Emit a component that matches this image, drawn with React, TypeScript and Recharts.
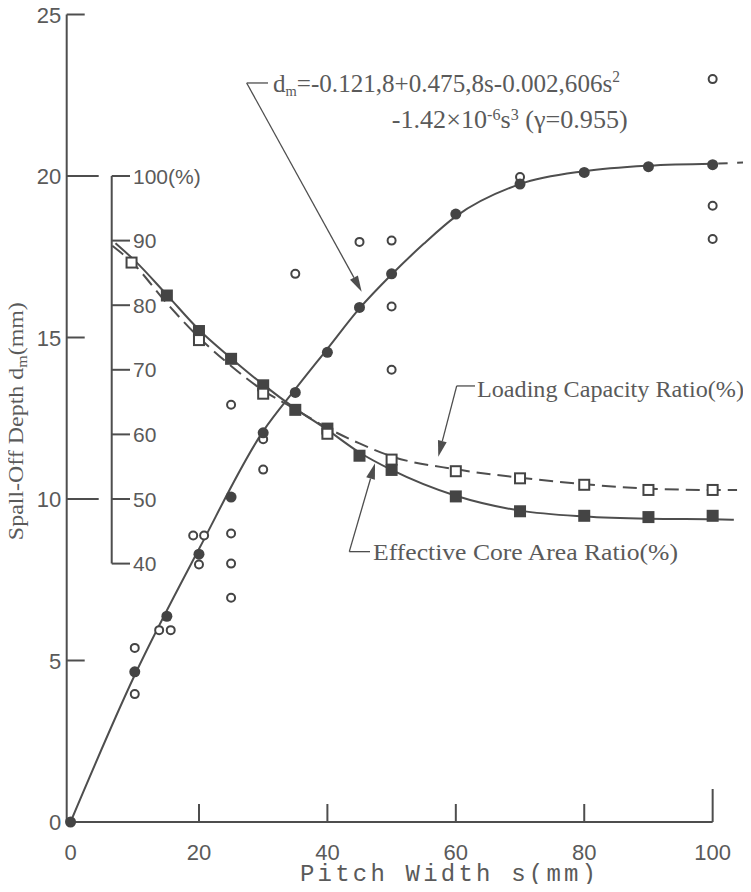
import React from 'react';
import { ComposedChart, Line, Scatter, XAxis, YAxis, ReferenceLine, ReferenceDot } from 'recharts';

// ---------------- data ----------------
const pitchTicks = [0, 20, 40, 60, 80, 100];
const depthTicks = [0, 5, 10, 15, 20, 25];
const ratioTicks = [40, 50, 60, 70, 80, 90, 100];
const ratioTickLabels = ['40', '50', '60', '70', '80', '90', '100(%)'];

// fitted spall-off depth curve d_m (mm) vs pitch width s (mm)
const depthCurveS = [0, 10, 20, 30, 35, 40, 45, 50, 55, 60, 70, 80, 90, 100];
const depthCurveV = [0, 4.55, 8.45, 12.1, 13.4, 14.65, 15.9, 16.95, 17.9, 18.75, 19.75, 20.15, 20.32, 20.38];
const depthExtS = [100, 105.5];
const depthExtV = [20.38, 20.42];

// mean values (filled circles)
const depthMeanS = [0, 10, 15, 20, 25, 30, 35, 40, 45, 50, 60, 70, 80, 90, 100];
const depthMeanV = [0, 4.65, 6.37, 8.29, 10.06, 12.05, 13.3, 14.54, 15.93, 16.97, 18.82, 19.75, 20.11, 20.29, 20.35];

// individual values (open circles)
const depthObsS = [10, 10, 13.8, 15.6, 19.1, 20.8, 20, 25, 25, 25, 25, 30, 30, 35, 45, 50, 50, 50, 70, 100, 100, 100];
const depthObsV = [5.39, 3.96, 5.94, 5.94, 8.87, 8.87, 7.97, 8.93, 8.0, 6.94, 12.92, 10.91, 11.85, 16.97, 17.96, 18.0, 15.96, 14.0, 19.97, 23.0, 19.08, 18.05];

// effective core area ratio (%)
const coreCurveS = [7, 10, 15, 20, 25, 30, 35, 40, 45, 50, 60, 70, 80, 90, 100, 103.3];
const coreCurveV = [89.6, 86.9, 81.6, 76.2, 71.8, 67.7, 64.0, 60.7, 57.2, 54.5, 50.5, 48.2, 47.3, 46.95, 46.85, 46.8];
const corePtsS = [15, 20, 25, 30, 35, 40, 45, 50, 60, 70, 80, 90, 100];
const corePtsV = [81.5, 76.0, 71.7, 67.6, 63.8, 60.9, 56.7, 54.5, 50.4, 48.1, 47.4, 47.2, 47.4];

// loading capacity ratio (%)
const loadCurveS = [6.5, 9.5, 15, 20, 25, 30, 35, 40, 45, 50, 60, 70, 80, 90, 100, 103.8];
const loadCurveV = [89.2, 86.7, 80.3, 75.0, 70.6, 66.8, 63.9, 61.0, 58.6, 56.6, 54.6, 53.3, 52.3, 51.6, 51.4, 51.4];
const loadPtsS = [9.5, 20, 30, 40, 50, 60, 70, 80, 90, 100];
const loadPtsV = [86.6, 74.6, 66.3, 60.1, 56.1, 54.3, 53.2, 52.2, 51.4, 51.4];

const toPts = (s: number[], v: number[]) => s.map((x, i) => ({ s: x, v: v[i] }));

// ---------------- styles ----------------
const INK = '#4e4e4e';
const MARK = '#444444';
const TXT = '#5a5a5a';
const SANS = '"Liberation Sans", Arial, sans-serif';
const SERIF = '"Liberation Serif", "DejaVu Serif", serif';
const MONO = '"Liberation Mono", "DejaVu Sans Mono", monospace';

// annotation anchors (data units: s, d_m) – not data
const X_MIN = -0.6;
const X_MAX = 105.8;
const PCT_AXIS_S = 6.41;
const PCT_TICK_END_S = 9.26;
const formulaArrow = { corner: [27.43, 22.88], bar: 30.75, tip: [45.34, 16.42] };
const loadArrow = { corner: [60.14, 13.5], bar: 62.99, tip: [57.27, 11.31] };
const coreArrow = { corner: [43.41, 8.37], bar: 46.64, tip: [47.42, 11.11] };
const formula1At = [31.53, 22.6];
const formula2At = [50.02, 21.5];
const loadTextAt = [63.3, 13.17];
const coreTextAt = [47.1, 8.11];
const xTitleAt = [58.78, -1.83];
const yTitleAt = [-7.45, 12.41];

// ---------------- shapes ----------------
const FilledCircle = (p: any) => <circle cx={p.cx} cy={p.cy} r={5.5} fill={MARK} />;
const OpenCircle = (p: any) => <circle cx={p.cx} cy={p.cy} r={4} fill="#fff" stroke={MARK} strokeWidth={2} />;
const FilledSquare = (p: any) => <rect x={p.cx - 6} y={p.cy - 6} width={12} height={12} fill={MARK} />;
const OpenSquare = (p: any) => (
  <rect x={p.cx - 5} y={p.cy - 5} width={10} height={10} fill="#fff" stroke={MARK} strokeWidth={2} />
);

const ArrowShape = (p: any) => {
  const { x1, y1, x2, y2 } = p;
  const dx = x2 - x1;
  const dy = y2 - y1;
  const L = Math.hypot(dx, dy) || 1;
  const ux = dx / L;
  const uy = dy / L;
  const head = 16;
  const hw = 4.5;
  const bx = x2 - ux * head;
  const by = y2 - uy * head;
  const pts = `${x2},${y2} ${bx - uy * hw},${by + ux * hw} ${bx + uy * hw},${by - ux * hw}`;
  return (
    <g>
      <line x1={x1} y1={y1} x2={bx} y2={by} stroke={INK} strokeWidth={1.3} />
      <polygon points={pts} fill={INK} />
    </g>
  );
};

const BarShape = (p: any) => <line x1={p.x1} y1={p.y1} x2={p.x2} y2={p.y2} stroke={INK} strokeWidth={1.3} />;

const XTick = (p: any) => {
  const v = p.payload.value;
  const len = v === 100 ? 33 : 18;
  return (
    <g>
      {v !== 0 && <line x1={p.x} y1={p.y} x2={p.x} y2={p.y - len} stroke={INK} strokeWidth={2} />}
      <text x={p.x} y={p.y + 38} textAnchor="middle" fontFamily={SANS} fontSize={22} fill={TXT}>
        {v}
      </text>
    </g>
  );
};

const YTick = (p: any) => {
  const v = p.payload.value;
  const len = v === 10 || v === 20 ? 32 : 18;
  return (
    <g>
      {v !== 0 && <line x1={p.x} y1={p.y} x2={p.x + len} y2={p.y} stroke={INK} strokeWidth={2} />}
      <text x={p.x - 5.5} y={p.y + 8} textAnchor="end" fontFamily={SANS} fontSize={22} fill={TXT}>
        {v}
      </text>
    </g>
  );
};

const pctTickShape = (label: string) => (p: any) => (
  <g>
    <line x1={p.x1} y1={p.y1} x2={p.x2} y2={p.y2} stroke={INK} strokeWidth={2} />
    <text x={p.x2 + 3} y={p.y1 + 7.5} fontFamily={SANS} fontSize={21} fill={TXT}>
      {label}
    </text>
  </g>
);

const Formula1 = (p: any) => (
  <text x={p.cx} y={p.cy} fontFamily={SERIF} fontSize={26} fill={TXT} textLength={347} lengthAdjust="spacingAndGlyphs">
    d<tspan fontSize={15} dy={4}>m</tspan>
    <tspan dy={-4}>=-0.121,8+0.475,8s-0.002,606s</tspan>
    <tspan fontSize={16} dy={-10}>2</tspan>
  </text>
);

const Formula2 = (p: any) => (
  <text x={p.cx} y={p.cy} fontFamily={SERIF} fontSize={26} fill={TXT} textLength={236} lengthAdjust="spacingAndGlyphs">
    -1.42×10<tspan fontSize={16} dy={-8}>-6</tspan>
    <tspan dy={8}>s</tspan>
    <tspan fontSize={16} dy={-8}>3</tspan>
    <tspan dy={8}>{' (γ=0.955)'}</tspan>
  </text>
);

const LoadText = (p: any) => (
  <text x={p.cx} y={p.cy} fontFamily={SERIF} fontSize={24} fill={TXT} textLength={267} lengthAdjust="spacingAndGlyphs">
    Loading Capacity Ratio(%)
  </text>
);

const CoreText = (p: any) => (
  <text x={p.cx} y={p.cy} fontFamily={SERIF} fontSize={24} fill={TXT} textLength={305} lengthAdjust="spacingAndGlyphs">
    Effective Core Area Ratio(%)
  </text>
);

const XTitle = (p: any) => (
  <text
    x={p.cx}
    y={p.cy}
    textAnchor="middle"
    fontFamily={MONO}
    fontSize={24}
    fill={TXT}
    textLength={296}
    lengthAdjust="spacing"
  >
    Pitch Width s(mm)
  </text>
);

const YTitle = (p: any) => (
  <text
    x={p.cx}
    y={p.cy}
    transform={`rotate(-90 ${p.cx} ${p.cy})`}
    textAnchor="middle"
    fontFamily={SERIF}
    fontSize={21}
    fill={TXT}
    textLength={238}
    lengthAdjust="spacingAndGlyphs"
  >
    Spall-Off Depth d<tspan fontSize={14} dy={4}>m</tspan>
    <tspan dy={-4}>(mm)</tspan>
  </text>
);

const arrowParts = (a: { corner: number[]; bar: number; tip: number[] }, key: string) => [
  <ReferenceLine
    key={key + '-a'}
    yAxisId="dm"
    segment={[
      { x: a.corner[0], y: a.corner[1] },
      { x: a.tip[0], y: a.tip[1] },
    ]}
    shape={ArrowShape}
  />,
  <ReferenceLine
    key={key + '-b'}
    yAxisId="dm"
    segment={[
      { x: a.corner[0], y: a.corner[1] },
      { x: a.bar, y: a.corner[1] },
    ]}
    shape={BarShape}
  />,
];

const textDot = (at: number[], shape: any, key: string) => (
  <ReferenceDot key={key} yAxisId="dm" x={at[0]} y={at[1]} r={0} ifOverflow="visible" shape={shape} />
);

export default function App() {
  return (
    <div style={{ margin: -8, width: 751, height: 892, background: '#fff' }}>
      <ComposedChart width={751} height={892} margin={{ top: 14.5, right: 1.1, bottom: 0, left: 0 }}>
        <XAxis
          type="number"
          dataKey="s"
          domain={[X_MIN, X_MAX]}
          ticks={pitchTicks}
          interval={0}
          axisLine={false}
          tickLine={false}
          tickSize={0}
          tickMargin={0}
          height={70}
          tick={XTick}
        />
        <YAxis
          yAxisId="dm"
          type="number"
          dataKey="v"
          domain={[0, 25]}
          ticks={depthTicks}
          interval={0}
          width={66.7}
          axisLine={{ stroke: INK, strokeWidth: 2 }}
          tickLine={false}
          tickSize={0}
          tickMargin={0}
          tick={YTick}
        />
        <YAxis yAxisId="pct" type="number" dataKey="v" domain={[0, 125]} hide />

        {/* x axis line */}
        <ReferenceLine
          yAxisId="dm"
          segment={[
            { x: X_MIN, y: 0 },
            { x: 100, y: 0 },
          ]}
          stroke={INK}
          strokeWidth={2}
        />

        {/* inner percentage axis */}
        <ReferenceLine
          yAxisId="pct"
          segment={[
            { x: PCT_AXIS_S, y: 40 },
            { x: PCT_AXIS_S, y: 100 },
          ]}
          stroke={INK}
          strokeWidth={2}
        />
        {ratioTicks.map((t, i) => (
          <ReferenceLine
            key={'pt' + t}
            yAxisId="pct"
            segment={[
              { x: PCT_AXIS_S, y: t },
              { x: PCT_TICK_END_S, y: t },
            ]}
            shape={pctTickShape(ratioTickLabels[i])}
          />
        ))}

        <Line
          yAxisId="dm"
          data={toPts(depthCurveS, depthCurveV)}
          dataKey="v"
          type="monotone"
          stroke={INK}
          strokeWidth={2}
          dot={false}
          activeDot={false}
          isAnimationActive={false}
        />
        <Line
          yAxisId="dm"
          data={toPts(depthExtS, depthExtV)}
          dataKey="v"
          type="linear"
          stroke={INK}
          strokeWidth={2}
          strokeDasharray="0 5.5 9.5 9.5 10 10"
          dot={false}
          activeDot={false}
          isAnimationActive={false}
        />
        <Line
          yAxisId="pct"
          data={toPts(coreCurveS, coreCurveV)}
          dataKey="v"
          type="monotone"
          stroke={INK}
          strokeWidth={2}
          dot={false}
          activeDot={false}
          isAnimationActive={false}
        />
        <Line
          yAxisId="pct"
          data={toPts(loadCurveS, loadCurveV)}
          dataKey="v"
          type="monotone"
          stroke={INK}
          strokeWidth={2}
          strokeDasharray="14 7"
          dot={false}
          activeDot={false}
          isAnimationActive={false}
        />

        <Scatter yAxisId="pct" data={toPts(corePtsS, corePtsV)} dataKey="v" shape={FilledSquare} isAnimationActive={false} />
        <Scatter yAxisId="pct" data={toPts(loadPtsS, loadPtsV)} dataKey="v" shape={OpenSquare} isAnimationActive={false} />
        <Scatter yAxisId="dm" data={toPts(depthObsS, depthObsV)} dataKey="v" shape={OpenCircle} isAnimationActive={false} />
        <Scatter yAxisId="dm" data={toPts(depthMeanS, depthMeanV)} dataKey="v" shape={FilledCircle} isAnimationActive={false} />

        {arrowParts(formulaArrow, 'f')}
        {arrowParts(loadArrow, 'l')}
        {arrowParts(coreArrow, 'c')}

        {textDot(formula1At, Formula1, 't1')}
        {textDot(formula2At, Formula2, 't2')}
        {textDot(loadTextAt, LoadText, 't3')}
        {textDot(coreTextAt, CoreText, 't4')}
        {textDot(xTitleAt, XTitle, 't5')}
        {textDot(yTitleAt, YTitle, 't6')}
      </ComposedChart>
    </div>
  );
}
